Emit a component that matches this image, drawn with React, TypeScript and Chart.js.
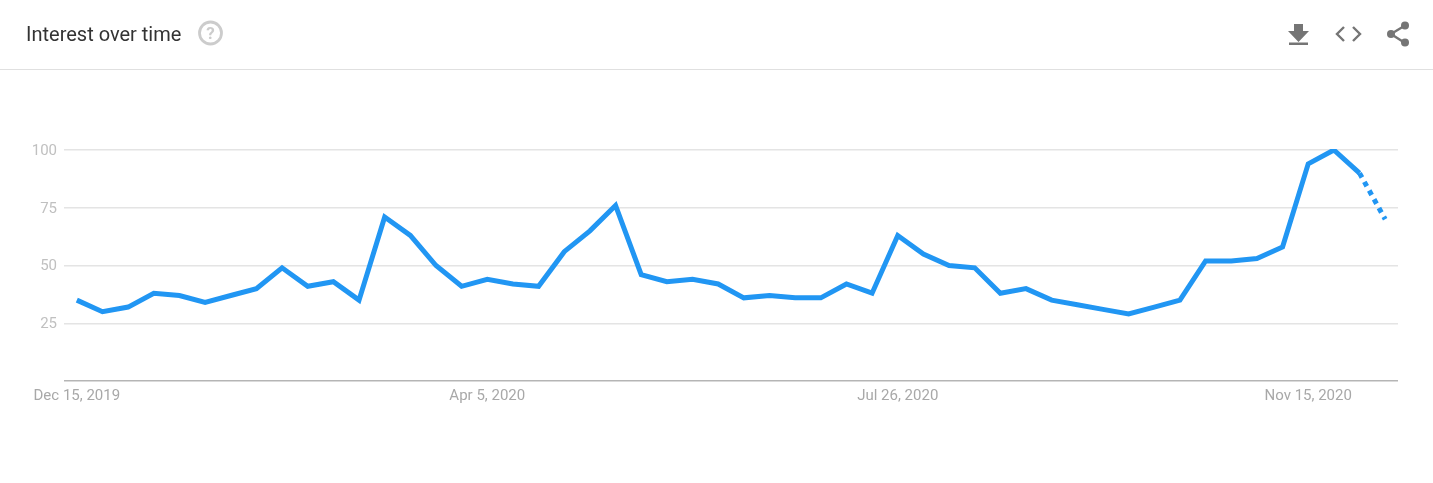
import React, { useEffect, useRef } from "react";
import { Chart, registerables } from "chart.js";

Chart.register(...registerables);

const weeks = [
  "Dec 15, 2019", "Dec 22, 2019", "Dec 29, 2019", "Jan 5, 2020", "Jan 12, 2020", "Jan 19, 2020", "Jan 26, 2020",
  "Feb 2, 2020", "Feb 9, 2020", "Feb 16, 2020", "Feb 23, 2020", "Mar 1, 2020", "Mar 8, 2020", "Mar 15, 2020",
  "Mar 22, 2020", "Mar 29, 2020", "Apr 5, 2020", "Apr 12, 2020", "Apr 19, 2020", "Apr 26, 2020", "May 3, 2020",
  "May 10, 2020", "May 17, 2020", "May 24, 2020", "May 31, 2020", "Jun 7, 2020", "Jun 14, 2020", "Jun 21, 2020",
  "Jun 28, 2020", "Jul 5, 2020", "Jul 12, 2020", "Jul 19, 2020", "Jul 26, 2020", "Aug 2, 2020", "Aug 9, 2020",
  "Aug 16, 2020", "Aug 23, 2020", "Aug 30, 2020", "Sep 6, 2020", "Sep 13, 2020", "Sep 20, 2020", "Sep 27, 2020",
  "Oct 4, 2020", "Oct 11, 2020", "Oct 18, 2020", "Oct 25, 2020", "Nov 1, 2020", "Nov 8, 2020", "Nov 15, 2020",
  "Nov 22, 2020", "Nov 29, 2020", "Dec 6, 2020",
];
const shownDates = ["Dec 15, 2019", "Apr 5, 2020", "Jul 26, 2020", "Nov 15, 2020"];
const interest: (number | null)[] = [
  35, 30, 32, 38, 37, 34, 37, 40, 49, 41, 43, 35, 71, 63, 50, 41, 44, 42, 41, 56, 65, 76, 46, 43, 44, 42,
  36, 37, 36, 36, 42, 38, 63, 55, 50, 49, 38, 40, 35, 33, 31, 29, 32, 35, 52, 52, 53, 58, 94, 100, 90, null,
];
const partial: (number | null)[] = [
  null, null, null, null, null, null, null, null, null, null, null, null, null, null, null, null, null, null,
  null, null, null, null, null, null, null, null, null, null, null, null, null, null, null, null, null, null,
  null, null, null, null, null, null, null, null, null, null, null, null, null, null, 90, 70,
];
const yTicks = [0, 25, 50, 75, 100];

export default function App() {
  const ref = useRef<HTMLCanvasElement>(null);

  useEffect(() => {
    const clip = { top: 1, left: false, right: false, bottom: false };
    const chart = new Chart(ref.current!, {
      type: "line",
      data: {
        labels: weeks,
        datasets: [
          { data: interest, borderColor: "#2196f3", borderWidth: 5, pointRadius: 0, tension: 0, borderJoinStyle: "miter", clip },
          { data: partial, borderColor: "#2196f3", borderWidth: 5, pointRadius: 0, tension: 0, borderDash: [5, 5], clip },
        ],
      } as any,
      options: {
        animation: false,
        responsive: false,
        devicePixelRatio: 1,
        layout: { padding: { top: 150, right: 35, left: 0, bottom: 0 } },
        plugins: { legend: { display: false }, tooltip: { enabled: false } },
        scales: {
          x: {
            type: "category",
            offset: true,
            afterFit: (s: any) => { s.height = 102; },
            border: { display: false },
            grid: { display: false },
            ticks: {
              autoSkip: false,
              maxRotation: 0,
              padding: -2,
              color: "#a8a8a8",
              font: { family: "Roboto", size: 15 },
              callback: (_v: any, i: number) => (shownDates.includes(weeks[i]) ? weeks[i] : ""),
            },
          },
          y: {
            min: 0,
            max: 100,
            afterFit: (s: any) => { s.width = 64; },
            afterBuildTicks: (s: any) => { s.ticks = yTicks.map((value) => ({ value })); },
            border: { display: false },
            grid: {
              drawTicks: false,
              lineWidth: 1.5,
              color: (c: any) => (c.tick && c.tick.value === 0 ? "#b5b5b5" : "#e4e4e4"),
            },
            ticks: {
              padding: 7,
              labelOffset: 1,
              color: "#c0c0c0",
              font: { family: "Roboto", size: 15 },
              callback: (v: any) => (v === 0 ? "" : String(v)),
            },
          },
        },
      },
    });
    return () => chart.destroy();
  }, []);

  return (
    <div style={{ position: "fixed", left: 0, top: 0, width: 1433, height: 483, background: "#fff", overflow: "hidden" }}>
      <canvas ref={ref} width={1433} height={483} style={{ position: "absolute", left: 0, top: 0, width: 1433, height: 483 }} />
      <div style={{ position: "absolute", left: 26, top: 22, lineHeight: "24px", fontFamily: "Roboto", fontSize: 20, color: "#333" }}>
        Interest over time
      </div>
      <div style={{ position: "absolute", left: 0, top: 69, width: 1433, height: 1, background: "#e0e0e0" }} />
      <svg width={1433} height={70} style={{ position: "absolute", left: 0, top: 0 }}>
        <circle cx={210.5} cy={33} r={11} fill="none" stroke="#cccccc" strokeWidth={2.8} />
        <text x={210.5} y={39} textAnchor="middle" fontFamily="Roboto" fontWeight="bold" fontSize={17} fill="#cccccc">?</text>
        <path d="M1294 24h9v7h6l-10.500 11-10.500-11h6z" fill="#757575" />
        <rect x={1289} y={42.500} width={19} height={2.500} fill="#757575" />
        <path d="M1344 27l-7 7 7 7M1353 27l7 7-7 7" fill="none" stroke="#757575" strokeWidth={2.4} />
        <path d="M1405 25.500l-14 8.500 14 9" fill="none" stroke="#757575" strokeWidth={2.4} />
        <circle cx={1405} cy={25.500} r={4} fill="#757575" />
        <circle cx={1391} cy={34} r={4} fill="#757575" />
        <circle cx={1405} cy={42.500} r={4} fill="#757575" />
      </svg>
    </div>
  );
}
